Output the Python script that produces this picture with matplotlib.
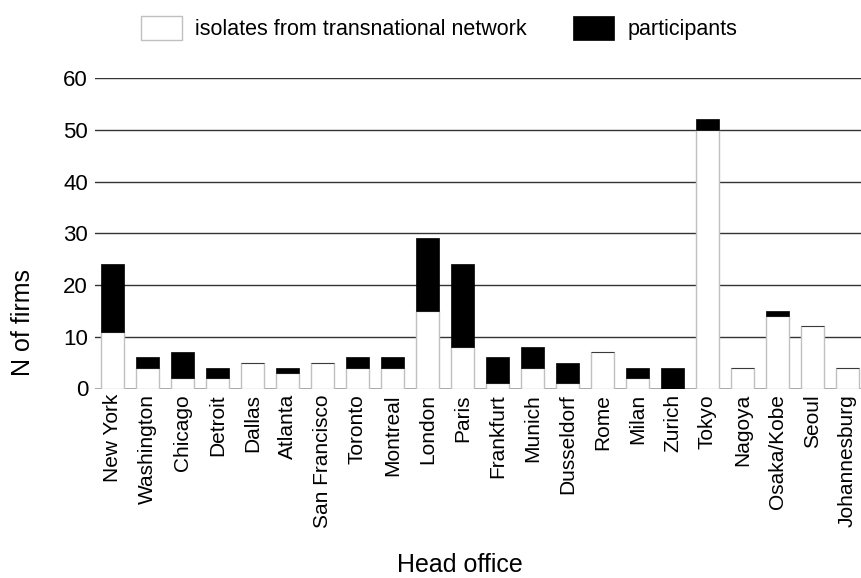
import matplotlib
matplotlib.use("Agg")
import matplotlib.pyplot as plt
import numpy as np

plt.rcParams['font.family'] = ['Liberation Sans', 'DejaVu Sans']

cities = ["New York", "Washington", "Chicago", "Detroit", "Dallas", "Atlanta",
          "San Francisco", "Toronto", "Montreal", "London", "Paris", "Frankfurt",
          "Munich", "Dusseldorf", "Rome", "Milan", "Zurich", "Tokyo", "Nagoya",
          "Osaka/Kobe", "Seoul", "Johannesburg"]
isolates = [11, 4, 2, 2, 5, 3, 5, 4, 4, 15, 8, 1, 4, 1, 7, 2, 0, 50, 4, 14, 12, 4]
participants = [13, 2, 5, 2, 0, 1, 0, 2, 2, 14, 16, 5, 4, 4, 0, 2, 4, 2, 0, 1, 0, 0]
yticks = [0, 10, 20, 30, 40, 50, 60]

W, H = 862, 578
fig = plt.figure(figsize=(W / 100, H / 100), dpi=100)
ax = fig.add_axes([95 / W, (H - 388.5) / H, 770 / W, 310.5 / H])

x = np.arange(len(cities))
ax.bar(x, isolates, width=0.64, color='white', edgecolor='#c0c0c0', linewidth=1,
       label='isolates from transnational network', zorder=3)
ax.bar(x, participants, width=0.64, bottom=isolates, color='black', edgecolor='black',
       linewidth=0.5, label='participants', zorder=3)

for v in yticks[1:]:
    ax.axhline(v, color='#333333', linewidth=1, zorder=1)
ax.axhline(0, color='#999999', linewidth=1.2, zorder=2)

ax.set_xlim(-0.5, 21.5)
ax.set_ylim(0, 60)
ax.set_yticks(yticks)
ax.set_xticks(x)
ax.set_xticklabels(cities, rotation=90, fontsize=15)
ax.tick_params(axis='y', length=0, pad=5, labelsize=16)
ax.tick_params(axis='x', length=0, pad=4)
for s in ax.spines.values():
    s.set_visible(False)

ax.set_ylabel("N of firms", fontsize=18)
ax.yaxis.set_label_coords(-0.078, 0.214)
ax.set_xlabel("Head office", fontsize=18)
ax.xaxis.set_label_coords(0.474, -0.53)

leg = ax.legend(loc='center', bbox_to_anchor=(439 / W, (H - 28) / H),
                bbox_transform=fig.transFigure, ncol=2, frameon=False,
                fontsize=15.5, handlelength=1.9, handleheight=1.4,
                handletextpad=0.62, columnspacing=2.15, borderpad=0)

fig.savefig("out.png", dpi=100)
